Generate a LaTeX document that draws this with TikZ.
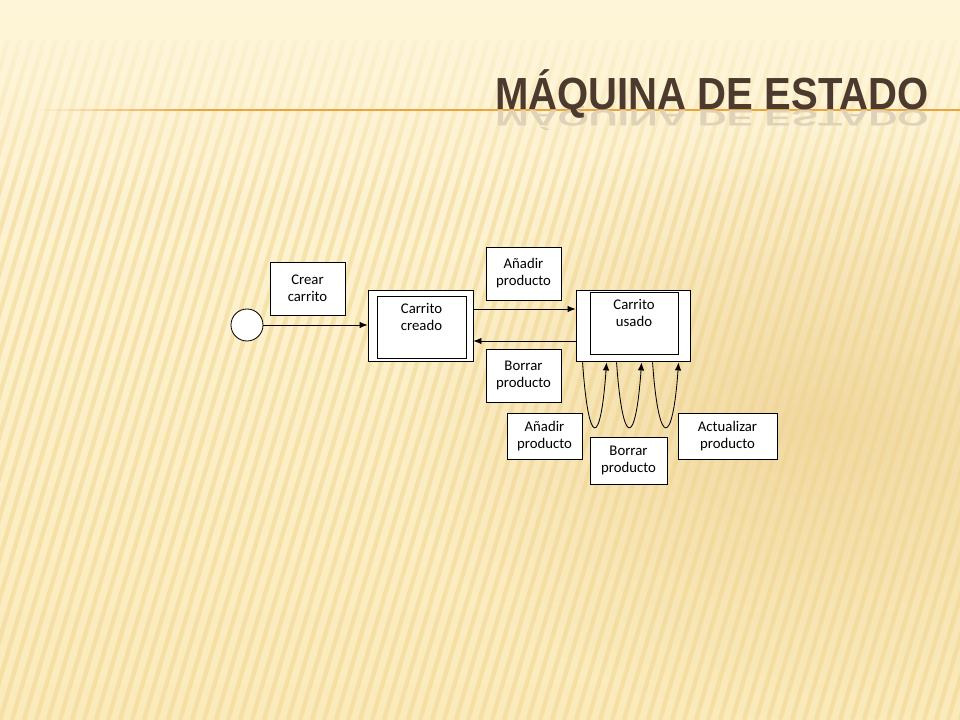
\documentclass[tikz,border=0pt]{standalone}
\usepackage{fontspec}
\setmainfont{Carlito}
\newfontfamily\titlefont{Liberation Sans}
\usetikzlibrary{arrows.meta}
\usetikzlibrary{calc}
\usetikzlibrary{fadings}
\definecolor{fondo}{HTML}{FBEBBB}
\definecolor{fondoclaro}{HTML}{FEF5D8}
\definecolor{raya}{HTML}{F0D48E}
\definecolor{mancha}{HTML}{E3BC70}
\definecolor{titulo}{HTML}{4B3A2D}
\definecolor{linea}{HTML}{E9A43C}
\tikzfading[name=difusa,inner color=transparent!0,outer color=transparent!100]

\begin{document}
\begin{tikzpicture}[x=0.025cm,y=-0.025cm,
	texto/.style={align=center,font=\fontsize{10.5}{12}\selectfont},
	caja/.style={texto,draw,fill=white,line width=0.6pt,minimum width=1.875cm,minimum height=1.325cm},
	estado/.style={draw,fill=white,line width=0.6pt},
	flecha/.style={-{Latex[length=2mm,width=1.6mm]},line width=0.6pt},
	rotulo/.style={text=titulo,font=\titlefont\bfseries\fontsize{32}{32}\selectfont,xscale=0.89}]
	\useasboundingbox (0,0) rectangle (960,720);
	% fondo
	\shade[top color=fondoclaro,bottom color=fondo] (0,0) rectangle (960,720);
	\fill[mancha,opacity=0.45,path fading=difusa] (820,420) ellipse (420 and 300);
	\foreach \i in {-20,...,80} {
		\draw[raya,opacity=0.5,line width=0.11cm] (\i*12,720) -- (\i*12+200,40);
	}
	\fill[fondoclaro,path fading=south] (0,0) rectangle (960,200);
	% titulo
	\fill[linea,path fading=west] (35,109.2) rectangle (200,110.8);
	\fill[linea] (200,109.2) rectangle (960,110.8);
	\node[rotulo,anchor=base east,text=titulo!18!fondoclaro,yscale=-0.5] (reflejo) at (933,111) {MÁQUINA DE ESTADO};
	\node[rotulo,anchor=base east] (titulo) at (933,110) {MÁQUINA DE ESTADO};
	% estados
	\node[circle,draw,fill=white,line width=0.6pt,minimum size=0.8cm,inner sep=0pt] (inicio) at (247,325) {};
	\node[caja] (crear) at (307.5,288.5) {Crear\\carrito};
	\node[estado,minimum width=2.625cm,minimum height=1.775cm] (creado) at (420.5,325.5) {};
	\node[estado,minimum width=2.225cm,minimum height=1.55cm] (creado-in) at (421.5,327) {};
	\node[texto,anchor=north] (txt-creado) at ($(creado-in.north)+(0,3)$) {Carrito\\creado};
	\node[estado,minimum width=2.85cm,minimum height=1.775cm] (usado) at (633,325.5) {};
	\node[estado,minimum width=2.2cm,minimum height=1.55cm] (usado-in) at (634,323) {};
	\node[texto,anchor=north] (txt-usado) at ($(usado-in.north)+(0,3)$) {Carrito\\usado};
	\node[caja] (anadir) at (523.5,273.5) {Añadir\\producto};
	\node[caja] (borrar) at (523.5,375.5) {Borrar\\producto};
	\node[caja,minimum height=1.15cm] (anadir2) at (544.5,436) {Añadir\\producto};
	\node[caja,minimum height=1.175cm,minimum width=1.925cm] (borrar2) at (628.5,460.5) {Borrar\\producto};
	\node[caja,minimum height=1.15cm,minimum width=2.475cm] (actualizar) at (727.5,436) {Actualizar\\producto};
	% transiciones
	\draw[flecha] (inicio.east) -- (inicio.east -| creado.west);
	\draw[flecha] ($(creado.east)+(0,-16.5)$) -- ($(usado.west)+(0,-16.5)$);
	\draw[flecha] ($(usado.west)+(0,15.5)$) -- ($(creado.east)+(0,15.5)$);
	\foreach \s/\e in {7/31,41/66,77/103} {
		\draw[flecha] ($(usado.south west)+(\s,1)$) .. controls ($(usado.south west)+(\s+6,87)$) and ($(usado.south west)+(\e-6,87)$) .. ($(usado.south west)+(\e,1)$);
	}
\end{tikzpicture}
\end{document}
